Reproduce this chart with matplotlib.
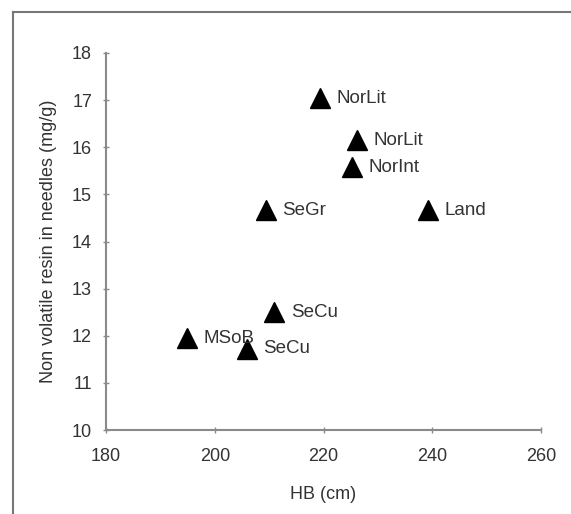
import matplotlib
matplotlib.use("Agg")
import matplotlib.pyplot as plt

plt.rcParams['font.family'] = ['Liberation Sans', 'DejaVu Sans']

labels = ["NorLit", "NorLit", "NorInt", "SeGr", "Land", "SeCu", "MSoB", "SeCu"]
hb = [219.3, 226.1, 225.2, 209.4, 239.2, 210.9, 194.9, 205.9]
resin = [17.04, 16.15, 15.58, 14.66, 14.66, 12.50, 11.95, 11.72]

xticks = [180, 200, 220, 240, 260]
yticks = [10, 11, 12, 13, 14, 15, 16, 17, 18]

fig = plt.figure(figsize=(5.71, 5.14), dpi=100)
ax = fig.add_axes([0.1856, 0.1634, 0.762, 0.7335])

ax.plot(hb, resin, linestyle='none', marker='^', color='black', markersize=15, clip_on=False)
for x, y, t in zip(hb, resin, labels):
    ax.annotate(t, (x, y), xytext=(12, 0), textcoords='offset points',
                va='center', ha='left', fontsize=13.5, color='#333333')

ax.set_xlim(180, 260)
ax.set_ylim(10, 18)
ax.set_xticks(xticks)
ax.set_yticks(yticks)
for s in ['top', 'right']:
    ax.spines[s].set_visible(False)
for s in ['left', 'bottom']:
    ax.spines[s].set_color('#8a8a8a')
    ax.spines[s].set_linewidth(1.5)
ax.tick_params(axis='both', colors='#8a8a8a', labelcolor='#333333', labelsize=13,
               length=4, direction='inout', width=1)
ax.tick_params(axis='x', pad=11)
ax.tick_params(axis='y', pad=8)
ax.set_xlabel("HB (cm)", fontsize=13, color='#333333', labelpad=15)
ax.set_ylabel("Non volatile resin in needles (mg/g)", fontsize=13, color='#333333', labelpad=11)

# outer frame lines (top and left)
fig.add_artist(plt.Line2D([13/571, 13/571], [0, 1 - 12/514], transform=fig.transFigure,
                          color='#777777', linewidth=1.5))
fig.add_artist(plt.Line2D([13/571, 1], [1 - 12/514, 1 - 12/514], transform=fig.transFigure,
                          color='#777777', linewidth=1.5))

fig.savefig("out.png", dpi=100)
